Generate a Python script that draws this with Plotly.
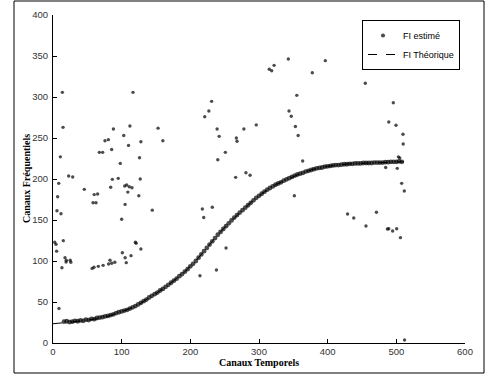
import plotly.graph_objects as go

# Estimated instantaneous frequency (dense ridge), channels 16..508 step 4
est_x = list(range(16, 512, 4))
est_y = [26, 26.5, 25.5, 26, 27, 26.5, 27.5, 27, 28.5, 28, 29.5, 29, 30.5, 31, 31.5, 32.5,
         33, 34, 35, 36.5, 37.5, 38.5, 39.5, 40.5, 42, 43.5, 45, 47, 49, 51, 53, 55.5,
         57.5, 59.5, 61.5, 64, 66, 68.5, 71, 73.5, 76, 78.5, 81.5, 84, 87, 90, 93.5, 96.5,
         100, 104, 108, 112, 116, 120, 124, 128, 132, 135.5, 139, 142.5, 146, 149.5, 153, 156,
         159, 162, 165, 168, 171, 174, 177, 179.5, 182, 184.5, 187, 189, 191, 193, 194.5, 196,
         198, 199.5, 201, 202.5, 204, 205.5, 206.5, 207.5, 209, 210, 211, 212, 213, 213.5, 214, 215,
         215.5, 216, 216.5, 217, 217, 217.5, 218, 218, 218.5, 218.5, 219, 219, 219, 219.5, 219.5, 219.5,
         219.5, 220, 220, 220, 220, 220.5, 220.5, 221, 221, 221, 221.5, 221]

# Scattered estimates (outliers)
out_x = [13.6, 116.5, 14.6, 88, 112, 153, 160, 128, 103, 80.6, 75.7, 110, 85.4, 67.5, 72.3,
         10.7, 126, 98, 22.8, 28.7, 8.3, 86.4, 95, 127, 45.6, 84, 104.4, 107.3, 111, 115,
         6.8, 60, 65, 109, 125, 5.8, 11.6, 58.3, 62.6, 105, 100, 144.6,
         2.5, 4.4, 5.3, 15, 17.5, 19, 19.5, 25, 26, 13, 57, 59.7, 66, 73, 81, 85.5, 90,
         83, 105, 106.7, 101, 113.6, 120, 121, 128, 8.7,
         342.7, 322, 315, 318.5, 231, 227, 221, 296, 278, 239, 242, 267, 268, 251, 240,
         266, 281, 287, 217.5, 232, 219.5, 252, 238, 214,
         396.6, 377.6, 454.8, 355, 343.7, 347, 353, 357, 495.6, 489, 499.5, 509.7, 510,
         363.6, 503, 505, 484.5, 501.4, 507.8,
         351.5, 511.6, 429, 438, 471, 455.8, 487, 489, 494.6, 500.5, 506, 512]
out_y = [305.7, 305.7, 263, 261, 264.6, 262, 246.7, 245.5, 253, 248, 246.7, 241, 236, 232.5, 232.5,
         227, 226, 219, 203.7, 202.4, 194.7, 199.6, 200.8, 200, 187.4, 190, 191.5, 192.7, 190.6, 189.4,
         178.4, 181, 181.7, 184, 179.6, 161.3, 157.7, 171, 171, 169, 151, 162,
         122.8, 120.3, 112, 124.8, 104, 98.8, 100.8, 101, 98.4, 91.8, 91, 92.3, 93.5, 94.7, 96.3, 97.2, 98.4,
         101, 104, 98, 110, 106.5, 122.8, 121.6, 114.6, 42,
         346.3, 338.6, 333.8, 332, 294.7, 283, 276, 266, 261, 261, 252, 250, 246, 232.5, 223.5,
         202, 207.7, 204.5, 163.4, 165.5, 153, 115.8, 89, 82,
         344.3, 329.6, 316.7, 302, 283, 276.5, 264, 253, 293, 269.5, 265.5, 254.5, 242.7,
         222, 227, 225.6, 214, 213, 194.7,
         179.6, 185.4, 157.3, 152.4, 159.4, 142.7, 139, 139.4, 136.6, 139.4, 128.5, 3.7]

# Theoretical instantaneous frequency
th_x = [0, 16, 32, 48, 64, 80, 96, 112, 128, 144, 160, 176, 192, 208, 224, 240, 256,
        272, 288, 304, 320, 336, 352, 368, 384, 400, 416, 432, 448, 464, 480, 496, 511]
th_y = [23.5, 24.5, 26, 27.5, 29.5, 32.5, 37, 42, 48.5, 57, 66, 76, 87, 100, 116, 132, 146,
        159, 171, 182, 191, 198, 204, 209, 213, 215.5, 217, 218.5, 219, 219.5, 220, 220.5, 221]

sizes = [4.8] * len(est_x) + [3.4] * len(out_x)

fig = go.Figure()
fig.add_trace(go.Scatter(
    x=est_x + out_x, y=est_y + out_y, mode="markers", name="FI estimé",
    marker=dict(color="black", size=sizes, symbol="circle", line=dict(width=0)),
))
fig.add_trace(go.Scatter(
    x=th_x, y=th_y, mode="lines", name="FI Théorique",
    line=dict(color="black", width=1, dash="dash"),
))

L, R, T, B = 53, 465, 15, 343
W, H = 489, 376
pw, ph = R - L, B - T

axis_common = dict(
    showgrid=False, zeroline=False, showline=True, linecolor="black", linewidth=1,
    ticks="inside", ticklen=4, tickcolor="black", mirror=False, automargin=False,
    tickfont=dict(family="Liberation Sans, Arial", size=9.5, color="#333"),
)
title_font = dict(family="Liberation Serif, Times New Roman", size=10, color="black", weight="bold")
fig.update_xaxes(range=[0, 600], dtick=100, tick0=0, ticklabelstandoff=0,
                 title=dict(text="Canaux Temporels", standoff=0, font=title_font),
                 **axis_common)
fig.update_yaxes(range=[0, 400], dtick=50, tick0=0, ticklabelstandoff=2, **axis_common)

fig.add_annotation(text="Canaux Fréquentiels", xref="paper", yref="paper",
                   x=(26 - L) / pw, y=0.5, xanchor="center", yanchor="middle",
                   textangle=-90, showarrow=False, font=title_font)

fig.add_shape(type="rect", xref="paper", yref="paper",
              x0=(14 - L) / pw, x1=(484 - L) / pw,
              y0=(B - 373) / ph, y1=(B - 1) / ph,
              line=dict(color="black", width=1), fillcolor="rgba(0,0,0,0)", layer="below")

fig.update_layout(
    width=W, height=H,
    margin=dict(l=L, r=W - R, t=T, b=H - B),
    paper_bgcolor="white", plot_bgcolor="white",
    showlegend=True,
    legend=dict(x=(460 - L) / pw, y=(B - 20) / ph, xanchor="right", yanchor="top",
                bgcolor="white", bordercolor="black", borderwidth=1,
                font=dict(family="Liberation Sans, Arial", size=9, color="black"),
                tracegroupgap=0, itemwidth=30),
)

fig.write_html("out.html", config={"displayModeBar": False},
               post_script="document.body.style.margin='0';document.body.style.overflow='hidden';")
